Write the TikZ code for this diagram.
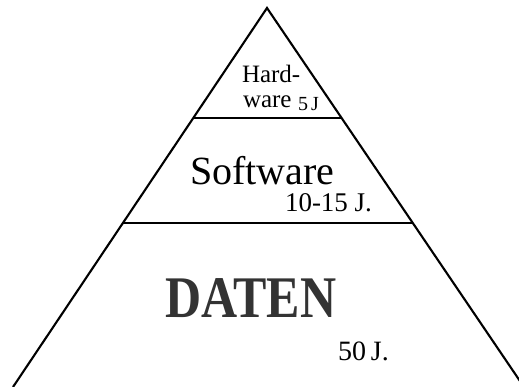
\documentclass[tikz,border=0pt]{standalone}
\usepackage{fontspec}
\setmainfont{Liberation Serif}
\usetikzlibrary{calc}
\begin{document}
\begin{tikzpicture}[x=1pt,y=-1pt,
  side/.style={line width=2.1pt, line join=miter},
  layer/.style={line width=1.6pt},
  lbl/.style={inner sep=0pt, outer sep=0pt, anchor=base west}]
\useasboundingbox (0,0) rectangle (519,387);
\clip (0,0) rectangle (519,387);
\coordinate (apex) at (267,8);
\coordinate (bl) at (13,387);
\coordinate (br) at (524,387);
\draw[side] (bl) -- (apex) -- (br);
\coordinate (l1) at ($(apex)!0.2902!(bl)$);
\coordinate (r1) at ($(apex)!0.2902!(br)$);
\coordinate (l2) at ($(apex)!0.5673!(bl)$);
\coordinate (r2) at ($(apex)!0.5673!(br)$);
\draw[layer] (l1) -- (r1);
\draw[layer] (l2) -- (r2);
\node[lbl] (hw1) at (242,83) {\fontsize{25}{25}\selectfont Hard-};
\node[lbl] (hw2) at (243,108) {\fontsize{25}{25}\selectfont ware};
\node[lbl] (hw3) at (298,111) {\fontsize{20}{20}\selectfont 5\kern-2pt\ J};
\node[lbl] (sw) at (190,185) {\fontsize{40}{40}\selectfont Software};
\node[lbl] (swy) at (285,212) {\fontsize{27}{27}\selectfont 10-15 J.};
\node[lbl, text=black!80] (da) at (165,317) {\scalebox{1}[1.18]{\fontsize{50}{50}\selectfont\bfseries DATEN}};
\node[lbl] (day) at (338,360) {\fontsize{28}{28}\selectfont 50\kern-2pt\ J.};
\end{tikzpicture}
\end{document}
